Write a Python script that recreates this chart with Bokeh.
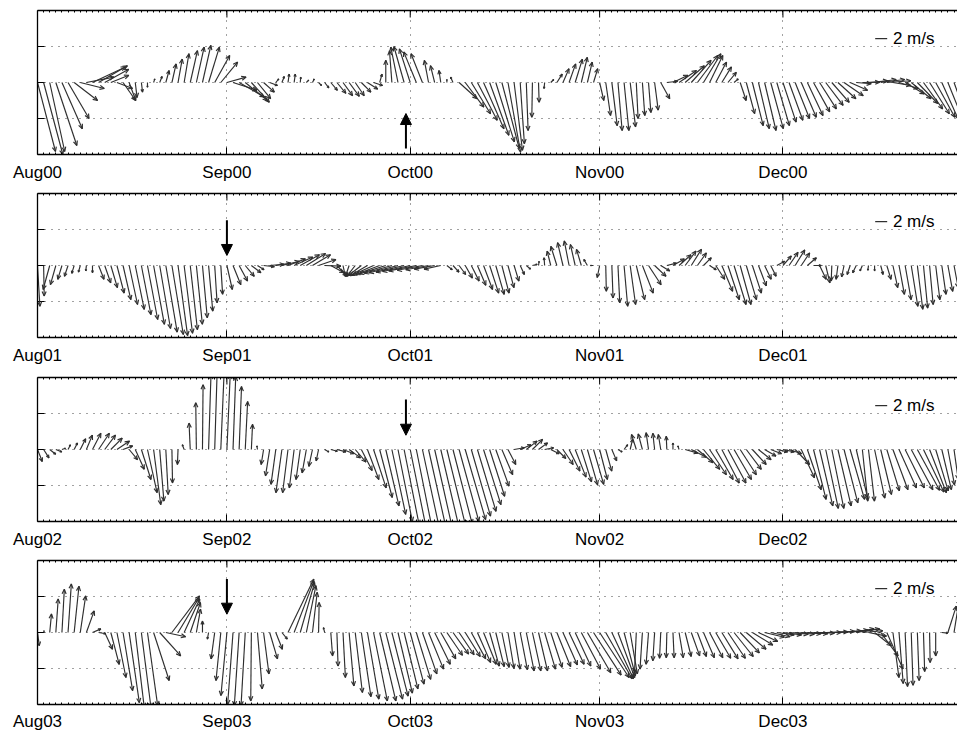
import math
from bokeh.plotting import figure
from bokeh.models import FixedTicker, LinearAxis, Arrow, NormalHead, Range1d
from bokeh.layouts import column
from bokeh.embed import file_html
from bokeh.resources import INLINE
from bokeh.core.properties import value

# ---------------- data ----------------
DAYS = list(range(151))                      # days since 1 August
MONTH_DAYS = [0, 31, 61, 92, 122]
MONTH_NAMES = ["Aug", "Sep", "Oct", "Nov", "Dec"]
YEARS = ["00", "01", "02", "03"]
Y_TICKS = [-6, 0, 6]

# eastward (u) and northward (v) wind, m/s, one vector per day
U1 = [3.0, 3.2, 2.5, 3.5, 3.4, 3.5, 3.9, 4.0, 4.6, 5.5,
      4.8, 4.0, 3.0, 2.6, 2.1, 1.1, 0.3, 0.2, 0.0, 0.2,
      0.4, 0.55, 0.7, 0.7, 0.8, 1.2, 1.3, 1.4, 1.8, 2.5,
      2.8, 3.2, 4.0, 4.2, 3.7, 3.0, 2.2, 1.8, 1.3, 0.5,
      0.4, 0.2, 0.2, 0.1, 0.4, 0.3, 0.5, 0.7, 1.1, 1.5,
      1.6, 1.7, 1.5, 1.6, 1.7, 1.5, 0.4, 0.0, -0.4, -1.2,
      -1.7, -1.8, -2.1, -1.9, -0.7, -0.7, -0.3, 0.0, -0.4, 3.0,
      3.1, 3.2, 3.3, 3.4, 3.2, 3.1, 2.9, 2.1, 1.4, 0.7,
      0.3, -0.1, 0.1, -0.1, 0.5, 0.9, 1.0, 1.1, 1.2, 1.0,
      0.8, 0.7, 0.7, 0.8, 0.9, 0.7, 0.8, 0.9, 0.3, 0.4,
      0.4, 0.6, 1.5, 1.8, 2.5, 2.9, 3.2, 3.3, 3.4, 2.9,
      2.2, 1.8, 1.6, 1.4, 0.7, 1.0, 1.4, 1.8, 1.8, 1.9,
      2.1, 2.1, 2.2, 2.3, 2.4, 2.5, 2.6, 2.7, 2.8, 2.9,
      2.9, 3.0, 3.2, 2.9, 2.5, 2.9, 3.2, 3.6, 4.0, 4.0,
      3.0, 3.2, 3.2, 3.3, 3.4, 3.2, 3.3, 3.2, 2.7, 2.5,
      2.3]
V1 = [-11.5, -12.0, -11.5, -10.5, -7.7, -6.0, -3.0, -1.0, 0.9, 2.6,
      2.8, 2.2, 1.2, -1.0, -3.0, -3.0, -2.5, -1.6, -0.8, 0.6,
      1.0, 2.0, 3.1, 3.9, 4.8, 5.3, 5.9, 6.2, 5.9, 4.5,
      3.4, 0.9, -1.3, -2.4, -3.0, -3.3, -2.7, -1.6, -0.5, 0.6,
      1.0, 1.4, 1.4, 0.9, 0.4, 0.6, -0.5, -0.9, -1.3, -1.8,
      -2.2, -2.3, -2.2, -1.6, -1.1, -0.5, 1.4, 3.7, 5.3, 5.9,
      6.0, 5.6, 5.1, 4.8, 3.7, 2.8, 2.0, 0.5, 0.9, -2.7,
      -4.1, -5.2, -6.3, -7.7, -8.8, -9.9, -11.0, -11.6, -11.3, -10.2,
      -8.0, -5.8, -3.3, -1.0, 0.5, 1.4, 2.3, 3.1, 3.9, 4.2,
      3.4, 2.3, -3.0, -5.5, -7.2, -8.0, -8.0, -7.4, -6.0, -5.5,
      -5.0, -4.6, -2.7, 0.2, 1.2, 2.0, 2.8, 3.7, 4.5, 4.8,
      4.5, 3.4, 2.6, 1.7, 0.6, -3.0, -5.2, -7.2, -7.7, -8.0,
      -7.7, -7.2, -6.6, -6.3, -6.0, -5.8, -5.5, -4.9, -4.4, -3.8,
      -3.3, -2.7, -2.2, -1.3, -0.2, 0.05, 0.3, 0.5, 0.5, 0.3,
      -0.5, -1.0, -1.9, -2.7, -3.5, -4.4, -5.2, -5.8, -6.0, -6.2,
      -6.4]

U2 = [0.4, 0.1, -1.1, -0.9, -0.7, -0.6, -0.4, -0.3, -0.1, 0.0,
      0.9, 1.0, 1.1, 1.2, 1.3, 1.4, 1.5, 1.6, 1.7, 1.8,
      1.8, 1.9, 1.9, 1.6, 1.4, 1.2, 1.0, 0.8, 0.7, 0.4,
      0.3, 0.9, 1.3, 1.4, 1.5, 1.6, 1.1, 1.8, 2.4, 2.5,
      2.9, 2.9, 3.1, 3.2, 3.2, 3.0, 2.9, 2.7, 2.2, 1.7,
      0.4, -0.6, -1.4, -2.2, -2.9, -3.5, -4.0, -4.4, -4.6, -4.8,
      -4.7, -4.6, -4.6, -4.2, -3.8, -3.4, -2.8, 0.9, 1.0, 1.1,
      1.2, 1.3, 1.4, 1.5, 1.5, 1.4, 1.2, 1.0, 0.8, 0.7,
      0.7, 0.8, 0.1, -0.1, -0.6, -1.0, -0.9, -0.8, -0.8, -0.8,
      -0.6, -0.5, -0.4, 0.1, 0.2, 0.3, 0.6, 0.9, 1.4, 1.8,
      2.1, 1.9, 1.5, 1.6, 1.9, 2.0, 1.8, 1.7, 1.5, 1.3,
      1.1, 1.5, 1.8, 1.9, 2.0, 1.8, 1.7, 1.5, 1.3, 1.1,
      0.9, 1.3, 1.4, 1.5, 1.6, 1.4, 1.5, 1.3, 1.1, 0.7,
      -0.1, -0.3, -0.4, -0.5, -0.6, -0.4, -0.1, 0.0, 0.4, 0.7,
      0.8, 0.9, 1.0, 1.1, 0.9, 0.7, 0.6, 0.7, 0.7, 0.8,
      0.7]
V2 = [-6.8, -5.1, -4.0, -3.2, -2.3, -1.8, -1.3, -1.1, -0.9, -1.2,
      -2.3, -2.9, -3.7, -4.6, -5.7, -6.5, -7.3, -8.2, -9.0, -9.8,
      -10.5, -11.1, -11.5, -11.7, -11.3, -10.7, -9.8, -8.7, -7.6, -6.2,
      -4.8, -4.0, -3.2, -2.6, -1.8, -1.2, -0.7, -0.2, 0.2, 0.4,
      0.7, 1.1, 1.4, 1.8, 2.0, 1.8, 1.0, -0.1, -1.2, -1.8,
      -1.8, -1.8, -1.8, -1.7, -1.7, -1.6, -1.5, -1.4, -1.3, -1.2,
      -1.1, -1.0, -0.9, -0.8, -0.7, -0.6, -0.6, -0.7, -1.1, -1.5,
      -2.1, -2.6, -3.3, -4.0, -4.6, -4.8, -4.6, -3.7, -2.6, -1.5,
      -0.6, 0.2, 0.7, 1.3, 2.4, 3.2, 3.8, 4.1, 3.5, 2.7,
      1.0, 0.0, -2.0, -4.3, -5.4, -6.2, -6.8, -6.5, -5.7, -4.6,
      -3.2, -1.8, -0.9, 0.4, 1.1, 1.8, 2.4, 2.7, 2.1, 1.3,
      -0.7, -2.3, -4.3, -5.7, -6.5, -6.5, -5.7, -4.6, -3.4, -2.3,
      -1.8, 0.7, 1.6, 2.2, 2.6, 2.1, 1.3, 0.0, -2.3, -2.9,
      -2.6, -2.3, -1.9, -1.5, -1.2, -0.9, -0.8, -0.9, -1.5, -2.3,
      -3.7, -4.8, -5.7, -6.8, -7.3, -7.1, -6.5, -5.7, -4.8, -4.3,
      -3.7]

U3 = [0.8, 0.9, 1.0, 1.0, 0.6, 0.4, 0.55, 0.9, 1.0, 1.4,
      1.8, 1.8, 1.9, 2.1, 1.6, 1.4, 1.5, 1.6, 1.6, 1.2,
      0.7, 0.4, 0.1, -0.1, -0.3, -0.2, -0.1, 0.1, 0.4, 0.4,
      0.55, 0.55, 0.45, 0.4, 0.4, 0.2, -0.1, -0.4, -0.7, -0.8,
      -1.0, -0.9, -0.8, -0.7, -0.7, -0.6, -0.4, 0.7, 1.1, 1.5,
      1.8, 1.9, 1.8, 1.8, 1.9, 2.1, 2.1, 2.2, 2.3, 2.4,
      2.5, 2.6, 2.6, 2.8, 2.9, 2.9, 3.0, 3.1, 3.2, 3.3,
      3.4, 3.2, 3.1, 2.9, 2.5, 2.2, 1.8, 1.3, 1.7, 1.8,
      1.8, 1.7, 1.5, 1.5, 1.4, 1.5, 1.7, 1.8, 1.8, 1.7,
      1.7, 1.7, 1.3, 1.0, 0.8, 0.7, 0.6, 0.4, -0.8, -0.7,
      -0.4, -0.3, -0.4, -0.1, 0.0, -0.2, 2.1, 2.5, 2.6, 2.7,
      2.8, 2.9, 2.9, 3.0, 2.9, 2.7, 2.5, 2.3, 2.1, 1.9,
      1.8, 1.8, 1.9, 2.1, 2.4, 2.2, 2.3, 2.1, 2.2, 2.1,
      2.0, 2.2, 2.3, 2.4, 1.9, 0.9, 1.0, 1.7, 1.8, 2.1,
      2.5, 2.9, 3.2, 3.6, 3.7, 3.4, 2.8, 2.1, 1.6, 1.1,
      0.7]
V3 = [-2.0, -1.4, -0.8, -0.4, 0.2, 0.8, 1.1, 1.8, 2.4, 2.7,
      2.7, 2.4, 1.9, 1.4, 0.6, -1.7, -3.3, -5.0, -7.2, -9.2,
      -8.6, -7.5, -5.6, -2.5, 0.8, 4.4, 7.8, 10.8, 12.5, 12.8,
      12.8, 12.5, 12.2, 10.5, 8.0, 4.2, 0.6, -2.5, -4.4, -5.8,
      -7.2, -7.2, -6.4, -5.0, -3.9, -2.8, -1.9, -0.4, -0.3, -0.4,
      -0.7, -1.4, -2.1, -3.5, -5.0, -6.4, -8.0, -9.4, -10.8, -12.0,
      -12.5, -12.8, -13.0, -13.0, -13.0, -12.9, -12.8, -12.6, -12.4, -12.0,
      -11.7, -11.1, -10.3, -9.2, -7.8, -6.1, -4.2, -2.5, 0.3, 0.8,
      1.4, 1.7, 1.1, 0.3, -0.7, -1.5, -2.5, -3.6, -4.6, -5.4,
      -5.9, -5.8, -5.0, -3.6, -1.9, -0.4, 0.8, 1.7, 2.5, 2.6,
      2.8, 2.7, 2.5, 2.2, 1.1, 0.6, -0.6, -1.3, -2.2, -3.3,
      -4.2, -5.0, -5.6, -5.6, -5.0, -4.2, -3.3, -2.5, -1.7, -1.1,
      -0.7, -0.4, -0.4, -0.7, -2.5, -4.7, -6.7, -8.3, -9.4, -9.8,
      -9.8, -9.4, -8.9, -8.3, -8.1, -8.6, -8.6, -8.1, -7.5, -6.9,
      -6.7, -6.4, -6.4, -6.7, -6.8, -7.1, -7.2, -6.9, -6.7, -5.9,
      -5.0]

U4 = [0.3, 0.1, 0.3, 0.4, 0.4, 0.55, 0.8, 0.9, 1.3, 1.4,
      1.2, 1.3, 1.4, 1.5, 1.6, 1.7, 1.5, 1.6, 1.7, 2.6,
      3.5, 3.3, 4.6, 3.5, 2.6, 1.7, 0.7, 0.0, -0.2, -0.6,
      -0.8, -1.0, -0.9, -0.8, -0.7, -0.1, 0.8, 0.9, 1.3, 1.1,
      0.9, 4.3, 3.3, 2.4, 1.6, 0.8, 0.1, -0.2, 0.3, 0.2,
      0.4, 0.8, 1.2, 1.6, 1.9, 2.3, 2.7, 2.8, 2.7, 2.4,
      2.3, 2.3, 2.4, 2.4, 2.5, 2.6, 2.5, 2.6, 2.6, 2.5,
      2.5, 2.4, 2.2, 2.1, 1.6, 1.4, 1.2, 1.0, 1.0, 1.2,
      1.3, 1.4, 1.5, 1.8, 1.9, 2.3, 2.4, 2.5, 2.6, 3.2,
      3.9, 4.6, 4.9, 4.4, 3.6, 2.8, 1.9, 1.2, -0.3, -0.4,
      -0.4, -0.3, -0.2, -0.1, 0.2, 0.7, 1.0, 1.4, 1.5, 1.8,
      2.2, 2.5, 2.7, 2.9, 3.2, 3.2, 3.3, 3.4, 3.2, 3.3,
      3.2, 2.9, 3.1, 3.2, 3.2, 3.3, 3.4, 3.5, 3.6, 3.7,
      3.8, 3.9, 4.0, 4.0, 3.9, 3.4, 3.0, 2.8, 2.9, 2.7,
      1.0, 0.7, 0.4, 0.3, 0.3, 0.2, 0.1, 0.0, 1.0, 1.4,
      0.9]
V4 = [-2.2, 0.3, 3.1, 5.6, 7.2, 8.1, 7.7, 6.1, 3.6, 0.6,
      -0.2, -2.8, -5.3, -7.5, -9.7, -11.7, -12.5, -12.5, -12.2, -8.0,
      -3.9, -0.7, 6.1, 5.8, 5.6, 5.0, 3.9, 1.9, -1.1, -4.4,
      -8.0, -10.5, -12.0, -12.2, -12.2, -11.4, -9.4, -6.9, -4.4, -2.8,
      -1.1, 8.9, 8.6, 8.3, 7.8, 6.7, 5.0, 0.8, -3.9, -5.6,
      -7.5, -8.9, -10.0, -10.7, -11.1, -11.4, -11.4, -11.1, -10.6, -10.1,
      -9.4, -8.6, -7.8, -6.9, -6.1, -5.3, -4.4, -3.8, -3.6, -3.7,
      -4.0, -4.4, -5.0, -5.3, -5.6, -5.7, -5.8, -6.0, -6.1, -6.2,
      -6.4, -6.4, -6.4, -6.1, -5.8, -5.7, -5.4, -5.3, -5.6, -6.1,
      -6.7, -7.1, -7.5, -7.7, -7.7, -7.5, -7.2, -6.9, -6.7, -6.1,
      -5.3, -4.7, -4.3, -4.2, -4.2, -4.2, -4.0, -3.9, -4.0, -4.2,
      -4.2, -4.3, -4.4, -4.3, -4.0, -3.4, -2.8, -2.1, -1.5, -0.8,
      -0.7, -0.4, -0.4, -0.3, -0.3, -0.2, -0.2, -0.1, 0.0, 0.1,
      0.2, 0.3, 0.4, 0.6, 0.6, 0.3, -0.6, -2.2, -3.9, -6.1,
      -7.5, -8.5, -9.0, -8.8, -8.0, -6.5, -5.0, -3.9, -0.1, 4.4,
      5.6]

U_ALL = [U1, U2, U3, U4]
V_ALL = [V1, V2, V3, V4]

# highlighted events (big black arrows): day, start and end height (m/s)
EVENT_DAY = [60.3, 31.0, 60.3, 31.0]
EVENT_Y0 = [-11.0, 7.55, 8.33, 8.9]
EVENT_Y1 = [-5.17, 1.67, 2.38, 3.05]

SCALE_MS = 2.0
SCALE_LABEL = "2 m/s"

# ---------------- geometry ----------------
X_END = 150.57
Y_LIM = 12.0
FRAME_W = 920
FRAME_H = 144
PX_DAY = FRAME_W / X_END
PX_MS = FRAME_H / (2 * Y_LIM)
K = PX_MS / PX_DAY   # days per m/s in x so that vectors keep true angles
TICK_PX = 7

VEC_COLOR = "#2e2e2e"
FONT = "Liberation Sans"


def make_panel(i, top, bottom, standoff):
    U = U_ALL[i]
    V = V_ALL[i]
    p = figure(frame_width=FRAME_W, frame_height=FRAME_H,
               x_range=Range1d(0, X_END), y_range=Range1d(-Y_LIM, Y_LIM),
               output_backend="svg", toolbar_location=None,
               min_border_left=37, min_border_right=0,
               min_border_top=top, min_border_bottom=bottom,
               outline_line_color=None, background_fill_color="white",
               border_fill_color="white")

    labels = {d: m + YEARS[i] for d, m in zip(MONTH_DAYS, MONTH_NAMES)}

    xa = p.xaxis[0]
    xa.ticker = FixedTicker(ticks=MONTH_DAYS, minor_ticks=DAYS)
    xa.major_label_overrides = labels
    xa.major_tick_in = TICK_PX
    xa.major_tick_out = 0
    xa.minor_tick_in = 2
    xa.minor_tick_out = 0
    xa.axis_line_width = 1.3
    xa.axis_line_color = "black"
    xa.major_tick_line_color = "black"
    xa.minor_tick_line_color = "black"
    xa.major_label_text_font = FONT
    xa.major_label_text_font_size = "17px"
    xa.major_label_text_color = "black"
    xa.major_label_standoff = standoff

    # top border with daily minor ticks (no labels)
    top_axis = LinearAxis(ticker=FixedTicker(ticks=[], minor_ticks=DAYS),
                          major_tick_in=0, major_tick_out=0,
                          minor_tick_in=2, minor_tick_out=0,
                          axis_line_width=1.3, axis_line_color="black",
                          minor_tick_line_color="black")
    p.add_layout(top_axis, "above")

    # left border (ticks drawn below as glyphs)
    ya = p.yaxis[0]
    ya.ticker = FixedTicker(ticks=[], minor_ticks=[])
    ya.major_tick_in = 0
    ya.major_tick_out = 0
    ya.minor_tick_line_color = None
    ya.axis_line_width = 1.3
    ya.axis_line_color = "black"

    p.xgrid.ticker = FixedTicker(ticks=MONTH_DAYS)
    p.ygrid.ticker = FixedTicker(ticks=Y_TICKS)
    for g in (p.xgrid, p.ygrid):
        g.grid_line_color = "#444444"
        g.grid_line_dash = "1 6"
        g.grid_line_width = 1

    # inward major ticks on top and left borders
    p.segment(x0=MONTH_DAYS, y0=[Y_LIM] * len(MONTH_DAYS),
              x1=MONTH_DAYS, y1=[Y_LIM - TICK_PX / PX_MS] * len(MONTH_DAYS),
              line_color="black", line_width=1)
    p.segment(x0=[0.0] * len(Y_TICKS), y0=Y_TICKS,
              x1=[TICK_PX / PX_DAY] * len(Y_TICKS), y1=Y_TICKS,
              line_color="black", line_width=1)

    # vector shafts
    x1 = [d + u * K for d, u in zip(DAYS, U)]
    p.segment(x0=DAYS, y0=[0.0] * len(DAYS), x1=x1, y1=V,
              line_color=VEC_COLOR, line_width=1.15)

    # arrow heads (two barbs) computed in screen proportions
    hx0, hy0, hx1, hy1 = [], [], [], []
    for d, u, v in zip(DAYS, U, V):
        dx = u * PX_MS
        dy = v * PX_MS
        L = math.hypot(dx, dy)
        if L < 1.0:
            continue
        h = min(0.33 * L, 5.0)
        ang = math.atan2(dy, dx)
        tx = d + dx / PX_DAY
        ty = v
        for s in (1, -1):
            a = ang + math.pi + s * math.radians(24)
            hx0.append(tx)
            hy0.append(ty)
            hx1.append(tx + h * math.cos(a) / PX_DAY)
            hy1.append(ty + h * math.sin(a) / PX_MS)
    p.segment(x0=hx0, y0=hy0, x1=hx1, y1=hy1,
              line_color=VEC_COLOR, line_width=1.15)

    # scale bar
    sx = 137.1
    sy = 7.3
    p.segment(x0=[sx], y0=[sy], x1=[sx + SCALE_MS * K], y1=[sy],
              line_color="black", line_width=1)
    p.text(x=[140.0], y=[sy], text=[SCALE_LABEL],
           text_font=value(FONT), text_font_size="17px",
           text_color="black", text_baseline="middle", text_align="left")

    # event arrow
    p.add_layout(Arrow(end=NormalHead(size=11, fill_color="black",
                                      line_color="black", line_width=1),
                       x_start=EVENT_DAY[i], y_start=EVENT_Y0[i],
                       x_end=EVENT_DAY[i], y_end=EVENT_Y1[i],
                       line_color="black", line_width=2))
    return p


figs = [make_panel(0, 10, 30, 8), make_panel(1, 9, 30, 8),
        make_panel(2, 10, 30, 8), make_panel(3, 9, 27, 7)]
layout = column(*figs, spacing=0)

open("out.html", "w").write(file_html(layout, INLINE))
